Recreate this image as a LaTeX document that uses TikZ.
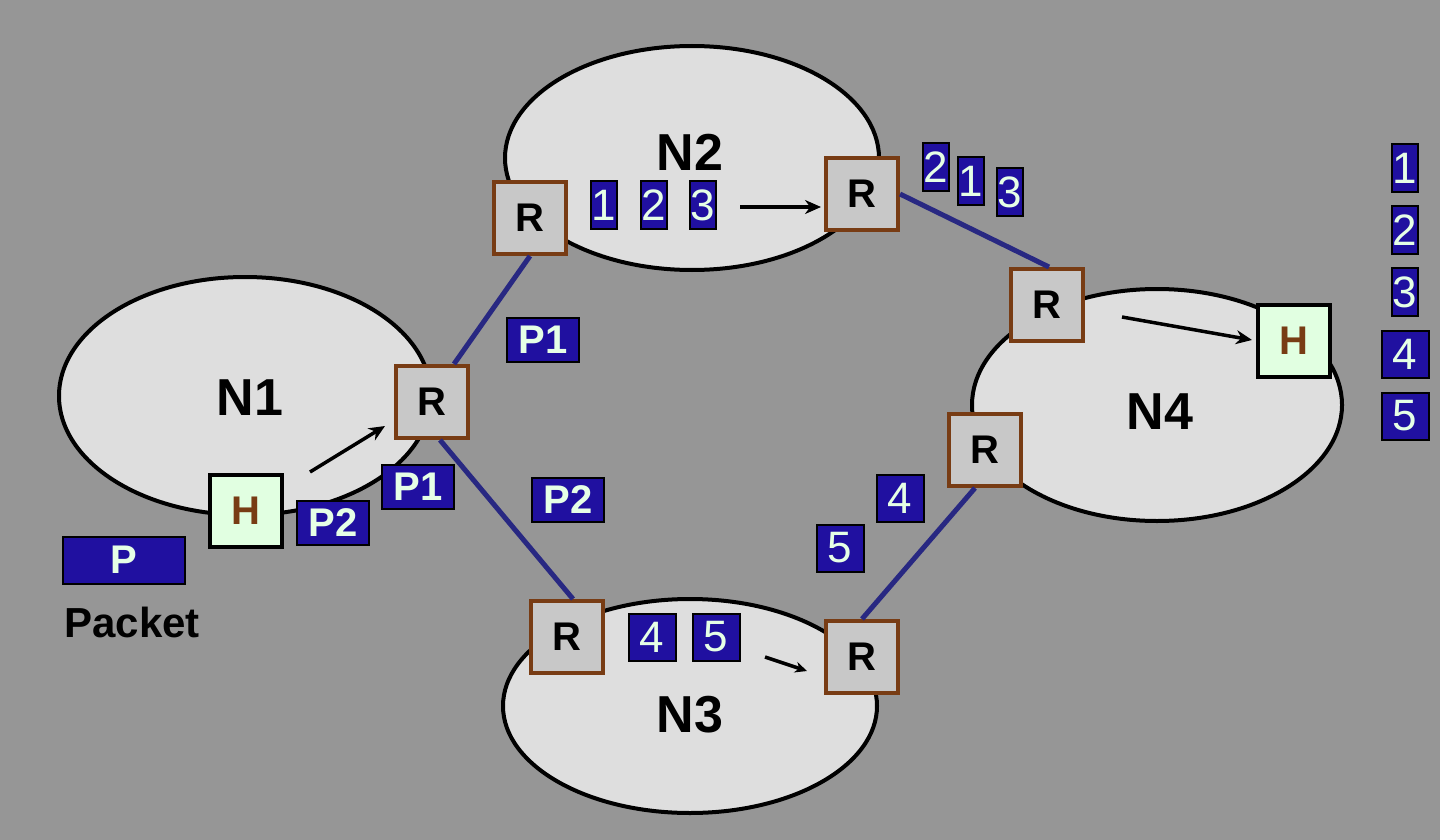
\documentclass[tikz,border=0pt]{standalone}
\usepackage{fontspec}
\setmainfont{Liberation Sans}
\usetikzlibrary{shapes.geometric,arrows.meta}
\definecolor{bggray}{RGB}{150,150,150}
\definecolor{netfill}{RGB}{222,222,222}
\definecolor{rfill}{RGB}{200,200,200}
\definecolor{rborder}{RGB}{120,60,20}
\definecolor{hfill}{RGB}{225,255,225}
\definecolor{pkfill}{RGB}{32,16,160}
\definecolor{pktext}{RGB}{230,255,230}
\definecolor{linkblue}{RGB}{40,40,130}
\tikzset{
  net/.style={ellipse,draw=black,line width=4pt,fill=netfill},
  router/.style={rectangle,draw=rborder,line width=4pt,fill=rfill,minimum size=72pt,inner sep=0pt,font=\fontsize{40}{40}\bfseries\selectfont},
  host/.style={rectangle,draw=black,line width=4pt,fill=hfill,text=rborder,minimum size=72pt,inner sep=0pt,font=\fontsize{40}{40}\bfseries\selectfont},
  pkt/.style={rectangle,draw=black,line width=2pt,fill=pkfill,text=pktext,inner sep=0pt,minimum width=72pt,minimum height=44pt,font=\fontsize{40}{40}\bfseries\selectfont},
  frag/.style={pkt,minimum width=26pt,minimum height=48pt,font=\fontsize{44}{44}\selectfont},
  fragw/.style={pkt,minimum width=47pt,minimum height=47pt,font=\fontsize{44}{44}\selectfont},
  link/.style={draw=linkblue,line width=5pt},
  hop/.style={draw=black,line width=3.5pt,-{Stealth[length=16pt,width=14pt]}},
  netlabel/.style={font=\fontsize{52}{52}\bfseries\selectfont}
}
\begin{document}
\begin{tikzpicture}[x=1pt,y=-1pt]
  \fill[bggray] (0,0) rectangle (1440,840);
  \useasboundingbox (0,0) rectangle (1440,840);
  \node[net,minimum width=372pt,minimum height=238pt] (n1) at (245,396) {};
  \node[net,minimum width=374pt,minimum height=224pt] (n2) at (692,158) {};
  \node[net,minimum width=374pt,minimum height=214pt] (n3) at (690,706) {};
  \node[net,minimum width=370pt,minimum height=232pt] (n4) at (1157,405) {};
  \node[netlabel] (l1) at (250,398) {N1};
  \node[netlabel] (l2) at (690,152) {N2};
  \node[netlabel] (l3) at (690,715) {N3};
  \node[netlabel] (l4) at (1160,412) {N4};
  \node[router] (r1) at (432,402) {R};
  \node[router] (r2a) at (530,218) {R};
  \node[router] (r2b) at (862,194) {R};
  \node[router] (r4a) at (1047,305) {R};
  \node[router] (r4b) at (985,450) {R};
  \node[router] (r3a) at (567,637) {R};
  \node[router] (r3b) at (862,657) {R};
  \node[host] (h1) at (246,511) {H};
  \node[host] (h4) at (1294,341) {H};
  \draw[link] (r1.north east) ++(-16,0) coordinate (r1t) (r1t) -- (r2a.south);
  \draw[link] (r1.south) ++(8,0) coordinate (r1b) (r1b) -- ([xshift=6pt]r3a.north);
  \draw[link] (r2b.east) -- ([xshift=2pt]r4a.north);
  \draw[link] (r3b.north) -- ([xshift=-10pt]r4b.south);
  \coordinate (a1s) at (310,472);
  \coordinate (a1e) at (385,426);
  \coordinate (a2s) at (740,207);
  \coordinate (a2e) at (821,207);
  \coordinate (a3s) at (765,657);
  \coordinate (a3e) at (807,671);
  \coordinate (a4s) at (1122,317);
  \coordinate (a4e) at (1252,340);
  \draw[hop] (a1s) -- (a1e);
  \draw[hop] (a2s) -- (a2e);
  \draw[hop,-{Stealth[length=12pt,width=11pt]}] (a3s) -- (a3e);
  \draw[hop] (a4s) -- (a4e);
  \node[pkt] (p1a) at (543,340) {P1};
  \node[pkt] (p1b) at (418,487) {P1};
  \node[pkt] (p2a) at (333,523) {P2};
  \node[pkt] (p2b) at (568,500) {P2};
  \node[pkt,minimum width=122pt,minimum height=47pt] (pk) at (124,560) {P};
  \node[font=\fontsize{42}{42}\bfseries\selectfont,text={RGB:red,32;green,16;blue,16}] (pkl) at (132,622) {Packet};
  \node[frag] (f1) at (604,205) {1};
  \node[frag] (f2) at (654,205) {2};
  \node[frag] (f3) at (703,205) {3};
  \node[frag] (g2) at (936,167) {2};
  \node[frag] (g1) at (971,181) {1};
  \node[frag] (g3) at (1010,192) {3};
  \node[frag] (k1) at (1405,168) {1};
  \node[frag] (k2) at (1405,230) {2};
  \node[frag] (k3) at (1405,292) {3};
  \node[fragw] (k4) at (1405,354) {4};
  \node[fragw] (k5) at (1405,416) {5};
  \node[fragw] (m4) at (652,637) {4};
  \node[fragw] (m5) at (716,637) {5};
  \node[fragw] (q4) at (900,498) {4};
  \node[fragw] (q5) at (840,548) {5};
\end{tikzpicture}
\end{document}
